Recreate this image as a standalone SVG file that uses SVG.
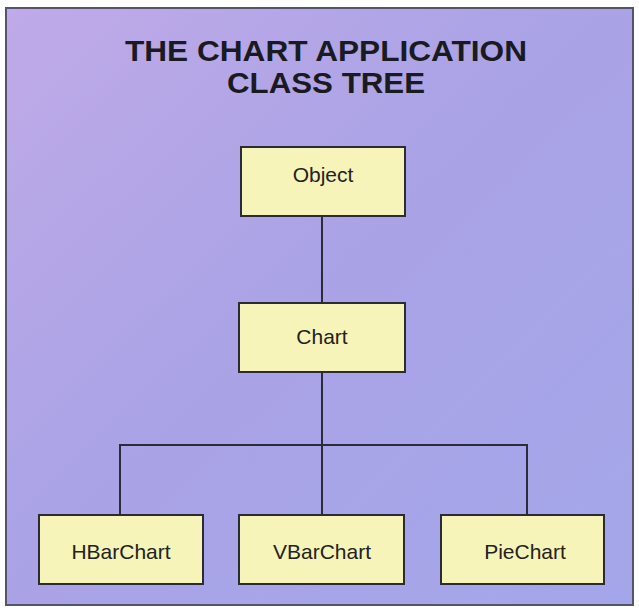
<svg xmlns="http://www.w3.org/2000/svg" width="639" height="613" viewBox="0 0 639 613">
  <defs>
    <linearGradient id="bg" x1="0" y1="0" x2="1" y2="1">
      <stop offset="0" stop-color="#c0aae8"/>
      <stop offset="0.45" stop-color="#aaa3e6"/>
      <stop offset="1" stop-color="#a4a6ea"/>
    </linearGradient>
  </defs>
  <style>
    .node rect { fill: #f6f4b8; stroke: #2b2b35; stroke-width: 2; }
    .node text { font-family: "Liberation Sans", Arial, sans-serif; font-size: 21px; fill: #222; text-anchor: middle; }
    .title { font-family: "Liberation Sans", Arial, sans-serif; font-weight: bold; font-size: 29px; fill: #1a1a22; text-anchor: middle; }
    .conn { stroke: #2b2b3a; stroke-width: 2; fill: none; }
  </style>
  <rect x="0" y="0" width="639" height="613" fill="#ffffff"/>
  <rect x="6" y="8" width="627" height="597" fill="url(#bg)" stroke="#55556a" stroke-width="2"/>
  <text class="title" x="326" y="61" textLength="402" lengthAdjust="spacingAndGlyphs">THE CHART APPLICATION</text>
  <text class="title" x="326" y="93" textLength="198" lengthAdjust="spacingAndGlyphs">CLASS TREE</text>
  <g id="connectors">
    <path class="conn" d="M322 216 V303"/>
    <path class="conn" d="M322 372 V515"/>
    <path class="conn" d="M120 515 V445 H527 V515"/>
  </g>
  <g id="object" class="node">
    <rect x="241" y="147" width="164" height="69"/>
    <text x="323" y="182">Object</text>
  </g>
  <g id="chart" class="node">
    <rect x="239" y="303" width="166" height="69"/>
    <text x="322" y="344">Chart</text>
  </g>
  <g id="hbarchart" class="node">
    <rect x="39" y="515" width="164" height="69"/>
    <text x="121" y="559">HBarChart</text>
  </g>
  <g id="vbarchart" class="node">
    <rect x="239" y="515" width="165" height="69"/>
    <text x="322" y="559">VBarChart</text>
  </g>
  <g id="piechart" class="node">
    <rect x="441" y="515" width="163" height="69"/>
    <text x="525" y="559">PieChart</text>
  </g>
</svg>
